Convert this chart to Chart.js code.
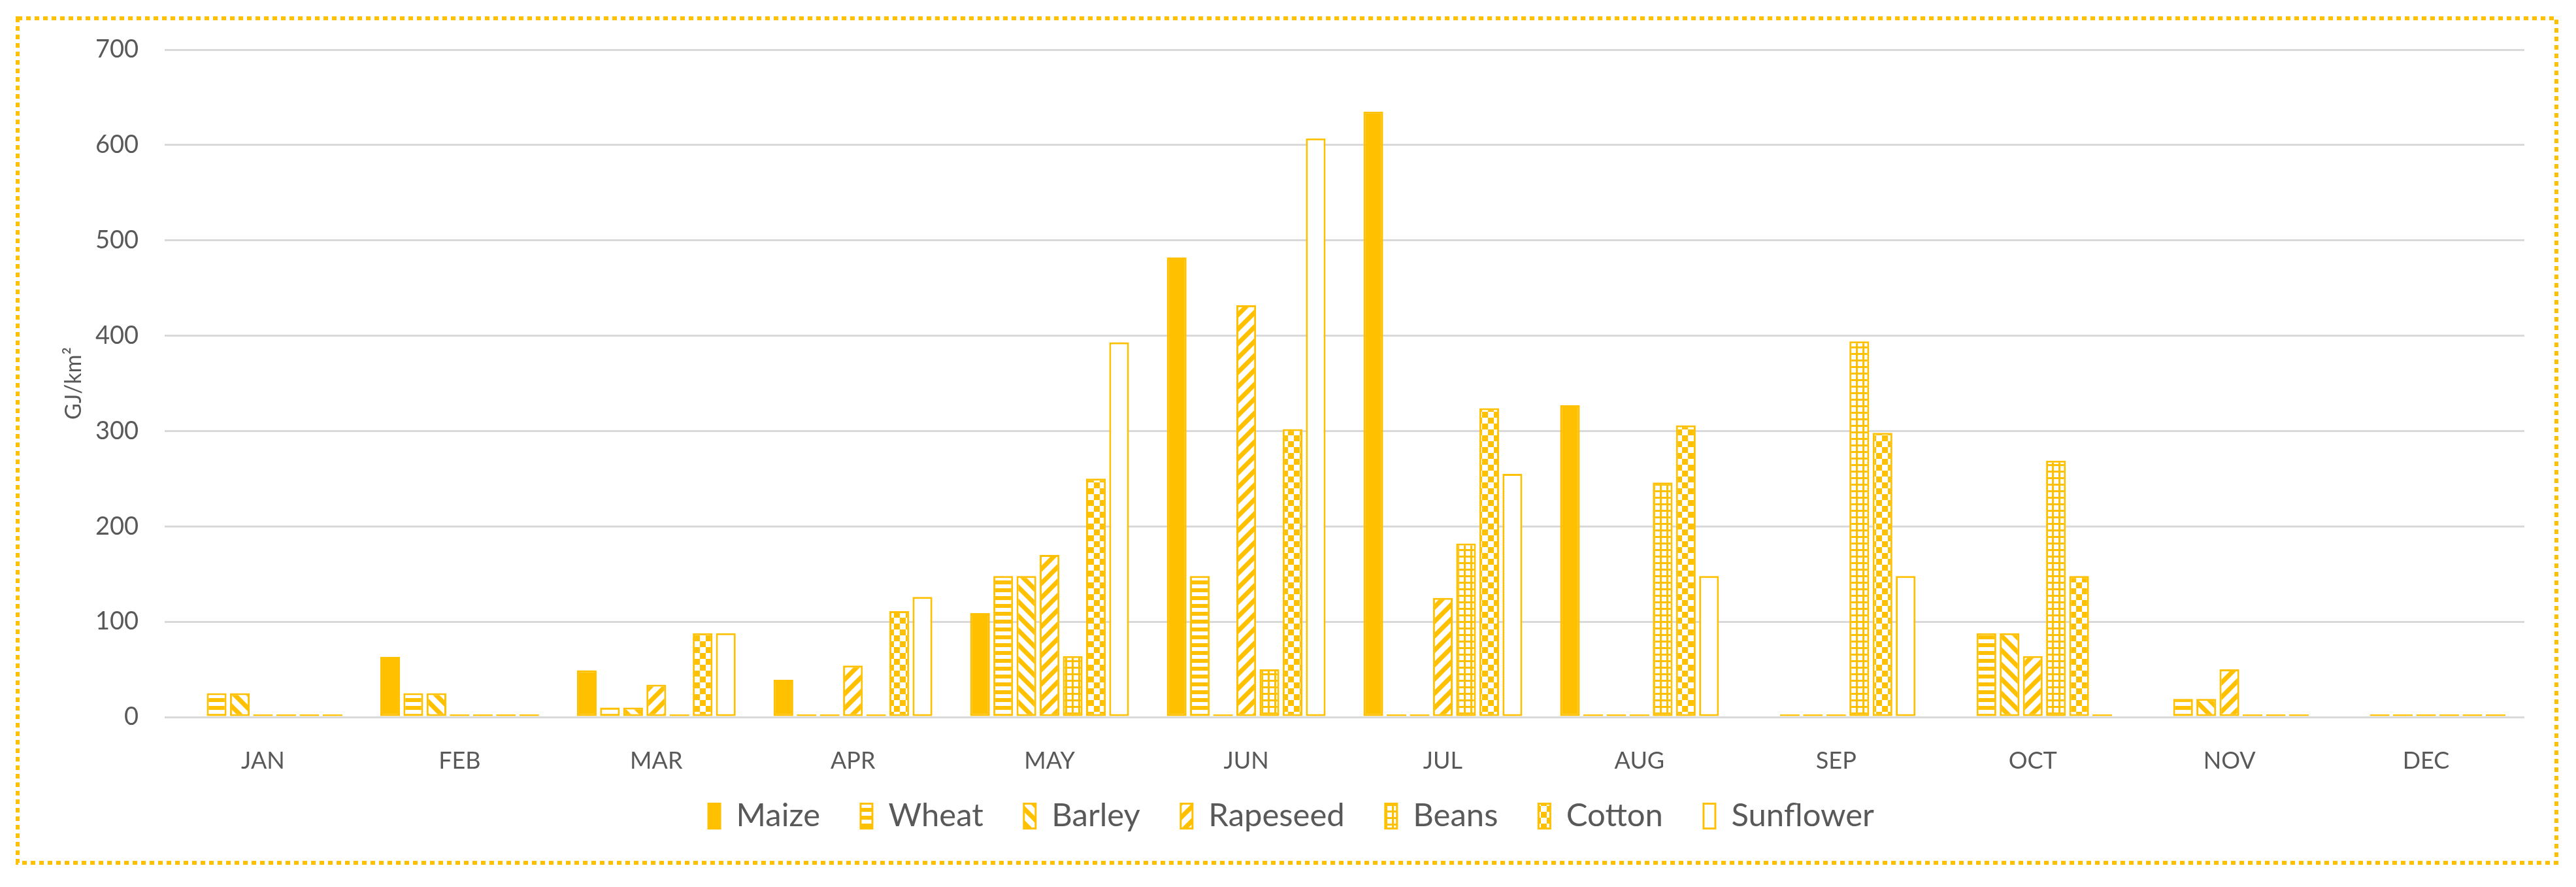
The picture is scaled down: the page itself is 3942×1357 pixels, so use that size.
<!DOCTYPE html>
<html>
<head>
<meta charset="utf-8">
<script src="https://cdn.jsdelivr.net/npm/chart.js@4.4.1/dist/chart.umd.min.js"></script>
<style>
  html, body { margin: 0; padding: 0; background: #ffffff; }
  #wrap { width: 3942px; height: 1357px; position: relative; }
</style>
</head>
<body>
<div id="wrap"><canvas id="chart" width="3942" height="1357"></canvas></div>
<script>
// ---------- DATA ----------
const months = ['JAN','FEB','MAR','APR','MAY','JUN','JUL','AUG','SEP','OCT','NOV','DEC'];
const maize     = [null, 63, 49, 39, 109, 482, 635, 327, null, null, null, null];
const wheat     = [25, 25, 10, 0, 148, 148, 0, 0, 0, 88, 19, 0];
const barley    = [25, 25, 10, 0, 148, 0, 0, 0, 0, 88, 19, 0];
const rapeseed  = [0, 0, 34, 54, 170, 432, 125, 0, 0, 64, 50, 0];
const beans     = [0, 0, 0, 0, 64, 50, 182, 246, 394, 269, 0, 0];
const cotton    = [0, 0, 88, 111, 250, 302, 324, 306, 298, 148, 0, 0];
const sunflower = [0, 0, 88, 126, 393, 607, 255, 148, 148, 0, 0, 0];
const yTicks = [0, 100, 200, 300, 400, 500, 600, 700];
const yTitle = 'GJ/km²';

// ---------- STYLE ----------
const GOLD = '#FFC000';
const TEXT = '#595959';
const FONT = 'Lato, "Open Sans", sans-serif';

function makePattern(kind) {
  const c = document.createElement('canvas');
  const ctx = c.getContext('2d');
  let s = 12;
  if (kind === 'hstripe') {
    s = 12; c.width = s; c.height = s;
    ctx.fillStyle = '#fff'; ctx.fillRect(0, 0, s, s);
    ctx.fillStyle = GOLD; ctx.fillRect(0, 0, s, 6);
  } else if (kind === 'ddiag' || kind === 'udiag') {
    s = 22; c.width = s; c.height = s;
    ctx.fillStyle = '#fff'; ctx.fillRect(0, 0, s, s);
    ctx.strokeStyle = GOLD; ctx.lineWidth = 7; ctx.lineCap = 'square';
    for (let x = -s; x <= s; x += s) {
      ctx.beginPath();
      if (kind === 'ddiag') { ctx.moveTo(x, 0); ctx.lineTo(x + s, s); }
      else { ctx.moveTo(x, s); ctx.lineTo(x + s, 0); }
      ctx.stroke();
    }
  } else if (kind === 'grid') {
    s = 10; c.width = s; c.height = s;
    ctx.fillStyle = GOLD; ctx.fillRect(0, 0, s, s);
    ctx.fillStyle = '#fff'; ctx.fillRect(3, 3, 7, 7);
  } else if (kind === 'checker') {
    s = 18; c.width = s; c.height = s;
    ctx.fillStyle = '#fff'; ctx.fillRect(0, 0, s, s);
    ctx.fillStyle = GOLD; ctx.fillRect(0, 0, 9, 9); ctx.fillRect(9, 9, 9, 9);
  }
  return ctx.createPattern(c, 'repeat');
}

const seriesDefs = [
  { label: 'Maize',     data: maize,     fill: GOLD },
  { label: 'Wheat',     data: wheat,     fill: makePattern('hstripe') },
  { label: 'Barley',    data: barley,    fill: makePattern('ddiag') },
  { label: 'Rapeseed',  data: rapeseed,  fill: makePattern('udiag') },
  { label: 'Beans',     data: beans,     fill: makePattern('grid') },
  { label: 'Cotton',    data: cotton,    fill: makePattern('checker') },
  { label: 'Sunflower', data: sunflower, fill: '#ffffff' }
];

const datasets = seriesDefs.map(d => ({
  label: d.label,
  data: d.data,
  backgroundColor: d.fill,
  borderColor: GOLD,
  borderWidth: 3,
  borderSkipped: false,
  minBarLength: 4,
  categoryPercentage: 0.825,
  barPercentage: 0.85
}));

const frame = {
  id: 'frame',
  beforeDraw(chart) {
    // let the month labels draw below the fixed-height x axis box
    if (chart.scales.x) chart.scales.x._computeLabelArea = function () { return undefined; };
    const ctx = chart.ctx;
    ctx.save();
    ctx.fillStyle = '#ffffff';
    ctx.fillRect(0, 0, chart.width, chart.height);
    ctx.strokeStyle = GOLD;
    ctx.lineWidth = 6;
    ctx.setLineDash([7, 6]);
    ctx.lineCap = 'butt';
    ctx.strokeRect(27, 28, 3885, 1292);
    ctx.restore();
  }
};

new Chart(document.getElementById('chart'), {
  type: 'bar',
  data: { labels: months, datasets },
  plugins: [frame],
  options: {
    responsive: false,
    animation: false,
    layout: { padding: { left: 89, right: 79, top: 76, bottom: 74 } },
    plugins: {
      legend: {
        position: 'bottom',
        labels: {
          font: { family: FONT, size: 49 },
          color: TEXT,
          boxWidth: 18,
          boxHeight: 38,
          padding: 62
        }
      },
      tooltip: { enabled: false }
    },
    scales: {
      x: {
        grid: { display: false, drawTicks: false },
        border: { display: false },
        ticks: { font: { family: FONT, size: 36 }, color: TEXT, padding: 46 },
        afterFit(s) { s.height = 65; }
      },
      y: {
        min: 0, max: 700,
        afterBuildTicks(s) { s.ticks = yTicks.map(v => ({ value: v })); },
        grid: { color: '#D9D9D9', lineWidth: 3, drawTicks: false },
        border: { display: false },
        ticks: { font: { family: FONT, size: 38 }, color: TEXT, padding: 40 },
        title: { display: true, text: yTitle, font: { family: FONT, size: 34 }, color: TEXT },
        afterFit(s) { s.width = 163; }
      }
    }
  }
});
</script>
</body>
</html>
